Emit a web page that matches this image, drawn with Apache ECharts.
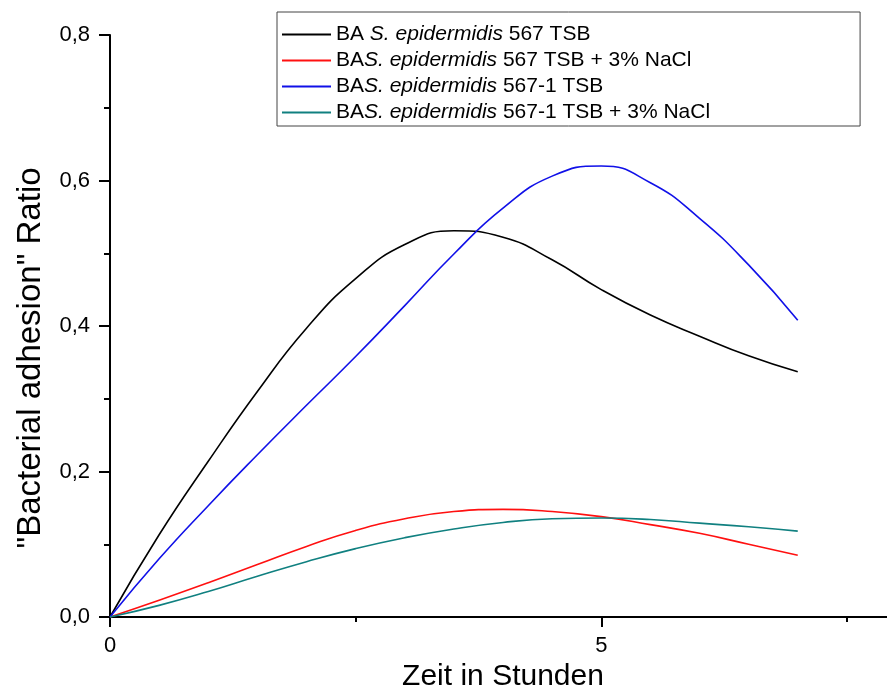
<!DOCTYPE html>
<html><head><meta charset="utf-8">
<script src="https://cdn.jsdelivr.net/npm/echarts@6/dist/echarts.min.js"></script>
<style>html,body{margin:0;padding:0;background:#fff}#c{width:887px;height:691px}</style>
</head><body><div id="c"></div>
<script>
// Zeit in Stunden
const hours = [0, 0.5, 1, 1.5, 2, 2.5, 3, 3.5, 4, 4.5, 5, 5.5, 6, 6.5, 7];
// "Bacterial adhesion" Ratio
const ba567TSB      = [0, 0.113, 0.214, 0.310, 0.397, 0.465, 0.512, 0.531, 0.522, 0.491, 0.450, 0.415, 0.386, 0.359, 0.337];
const ba567NaCl     = [0, 0.023, 0.047, 0.072, 0.097, 0.119, 0.135, 0.145, 0.148, 0.145, 0.138, 0.127, 0.115, 0.100, 0.085];
const ba5671TSB     = [0, 0.080, 0.153, 0.223, 0.291, 0.358, 0.428, 0.499, 0.562, 0.606, 0.620, 0.597, 0.548, 0.484, 0.408];
const ba5671NaCl    = [0, 0.016, 0.035, 0.056, 0.076, 0.094, 0.109, 0.121, 0.130, 0.135, 0.136, 0.134, 0.129, 0.124, 0.118];
const seriesNames = [
  'BA S. epidermidis 567 TSB',
  'BAS. epidermidis 567 TSB + 3% NaCl',
  'BAS. epidermidis 567-1 TSB',
  'BAS. epidermidis 567-1 TSB + 3% NaCl'
];
const legendRich = [
  'BA {i|S. epidermidis} 567 TSB',
  'BA{i|S. epidermidis} 567 TSB + 3% NaCl',
  'BA{i|S. epidermidis} 567-1 TSB',
  'BA{i|S. epidermidis} 567-1 TSB + 3% NaCl'
];
const xTickLabels = ['0', '5'];
const seriesColors = ['#000000', '#ff1010', '#1010e8', '#108080'];

const FONT = 'Arial, "Liberation Sans", sans-serif';
const allData = [ba567TSB, ba567NaCl, ba5671TSB, ba5671NaCl];

const chart = echarts.init(document.getElementById('c'), null, {renderer: 'canvas'});
chart.setOption({
  backgroundColor: '#ffffff',
  animation: false,
  grid: {left: 110, top: 35, bottom: 74, right: -9, containLabel: false, outerBoundsMode: 'none'},
  legend: {
    left: 277, top: 12, orient: 'vertical',
    padding: [12, 150, 3, 5],
    itemGap: 5, itemWidth: 49, itemHeight: 14,
    borderColor: '#444', borderWidth: 1,
    data: seriesNames.map(n => ({name: n, icon: 'path://M0,6L49,6L49,8L0,8Z'})),
    formatter: name => legendRich[seriesNames.indexOf(name)],
    textStyle: {
      fontFamily: FONT, fontSize: 21, color: '#000',
      rich: {i: {fontFamily: FONT, fontSize: 21, fontStyle: 'italic', color: '#000'}}
    }
  },
  xAxis: {
    type: 'value', min: 0, max: 8, interval: 5,
    name: 'Zeit in Stunden', nameLocation: 'middle', nameGap: 42,
    nameTextStyle: {fontFamily: FONT, fontSize: 30, color: '#000'},
    axisLine: {show: true, onZero: false, lineStyle: {color: '#000', width: 2}},
    axisTick: {show: true, length: 10, lineStyle: {color: '#000', width: 2}},
    minorTick: {show: true, splitNumber: 2, length: 5, lineStyle: {color: '#000', width: 2}},
    splitLine: {show: false}, minorSplitLine: {show: false},
    axisLabel: {
      fontFamily: FONT, fontSize: 22, color: '#000', margin: 18, showMaxLabel: false,
      formatter: v => xTickLabels.indexOf(String(v)) >= 0 ? String(v) : ''
    }
  },
  yAxis: {
    type: 'value', min: 0, max: 0.8, interval: 0.2,
    name: '"Bacterial adhesion" Ratio', nameLocation: 'middle', nameGap: 63,
    nameTextStyle: {fontFamily: FONT, fontSize: 33, color: '#000', padding: [0, 64, 0, 0]},
    axisLine: {show: true, lineStyle: {color: '#000', width: 2}},
    axisTick: {show: true, length: 11, lineStyle: {color: '#000', width: 2}},
    minorTick: {show: true, splitNumber: 2, length: 6, lineStyle: {color: '#000', width: 2}},
    splitLine: {show: false}, minorSplitLine: {show: false},
    axisLabel: {
      fontFamily: FONT, fontSize: 22, color: '#000', margin: 20,
      formatter: v => v.toFixed(1).replace('.', ',')
    }
  },
  series: seriesNames.map((n, k) => ({
    name: n, type: 'line', smooth: 0.5, symbol: 'none', showSymbol: false,
    data: hours.map((h, i) => [h, allData[k][i]]),
    lineStyle: {color: seriesColors[k], width: 1.6},
    itemStyle: {color: seriesColors[k]},
    clip: false
  }))
});
</script></body></html>
